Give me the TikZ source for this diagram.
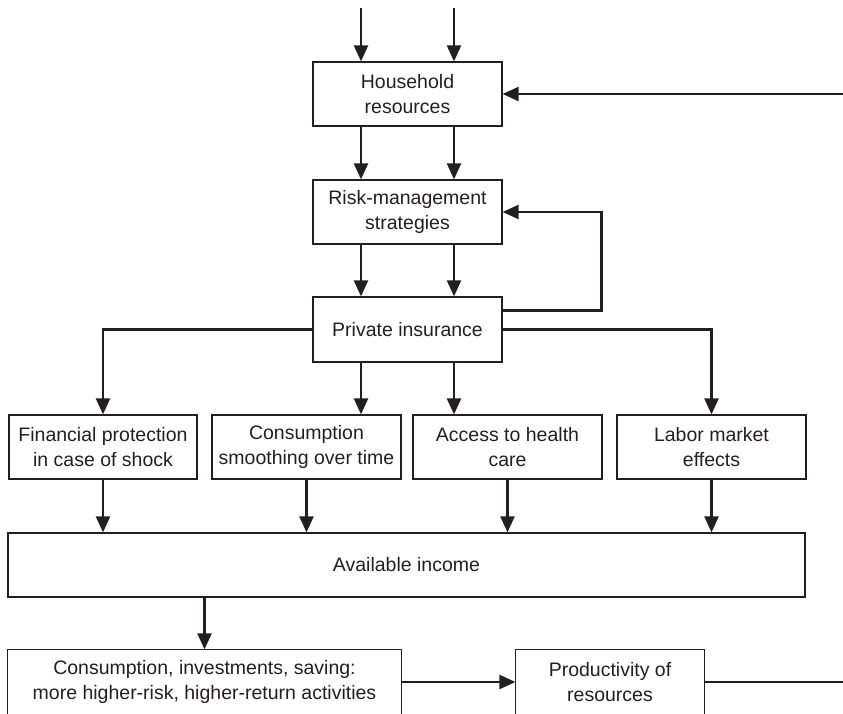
\documentclass[tikz,border=0pt]{standalone}
\usepackage{fontspec}
\setmainfont{Liberation Sans}
\usepackage{tikz}
\usetikzlibrary{positioning, arrows.meta, calc}
\definecolor{ink}{RGB}{35,31,32}

\begin{document}
\begin{tikzpicture}[x=1pt, y=1pt,
    box/.style={draw=ink, line width=1.2pt, rectangle, inner sep=0pt,
        minimum width=189pt, minimum height=64pt, align=center,
        text=ink, font=\fontsize{19.5}{25}\selectfont},
    openbox/.style={box, draw=none},
    edge/.style={draw=ink, line width=1.2pt},
    arr/.style={draw=ink, line width=2.3pt, -{Triangle[length=16pt, width=14pt]}},
    ln/.style={draw=ink, line width=2.3pt}]
    \useasboundingbox (0,0) rectangle (843,713);

    % Top half
    \node[box] (hh) at (407.5,619) {Household\\resources};
    \node[box] (risk) at (407.5,501) {Risk-management\\strategies};
    \node[box, minimum height=65pt] (priv) at (407.5,383.5) {Private insurance};

    % Row of effects
    \node[box, minimum width=188pt] (fin) at (103,266) {Financial protection\\in case of shock};
    \node[box] (cons) at (306.5,266) {Consumption\\smoothing over time};
    \node[box] (health) at (507.5,266) {Access to health\\care};
    \node[box] (labor) at (711.5,266) {Labor market\\effects};

    \node[box, minimum width=797pt] (avail) at (406.5,148) {Available income};

    % Bottom boxes (cut at page edge)
    \node[openbox, minimum width=393pt] (cis) at (204.5,31) {Consumption, investments, saving:\\more higher-risk, higher-return activities};
    \node[openbox, minimum width=188pt] (prod) at (610,31) {Productivity of\\resources};
    \foreach \b in {cis, prod}
        \draw[edge] ([yshift=-10pt]\b.south west) |- (\b.north east) -- ([yshift=-10pt]\b.south east);

    \coordinate (in1) at (361,705);
    \coordinate (in2) at (454,705);
    \coordinate (back) at (843,619);
    \coordinate (out) at (843,31);

    % Vertical flows
    \foreach \c in {in1, in2} {
        \draw[arr] (\c) -- (\c |- hh.north);
        \draw[arr] (hh.south -| \c) -- (risk.north -| \c);
        \draw[arr] (risk.south -| \c) -- (priv.north -| \c);
    }
    \draw[arr] (back) -- (hh.east);
    \draw[arr] ([yshift=19pt]priv.east) -- ++(99,0) |- (risk.east);

    % Branches from private insurance
    \draw[arr] (priv.west) -| (fin.north);
    \draw[arr] (priv.east) -| (labor.north);
    \draw[arr] (priv.south -| in1) -- (cons.north -| in1);
    \draw[arr] (priv.south -| in2) -- (health.north -| in2);

    \foreach \b in {fin, cons, health, labor}
        \draw[arr] (\b.south) -- (\b.south |- avail.north);

    \draw[arr] (avail.south -| cis.north) -- (cis.north);
    \draw[arr] (cis.east) -- (prod.west);
    \draw[ln] (prod.east) -- (out);
\end{tikzpicture}
\end{document}
